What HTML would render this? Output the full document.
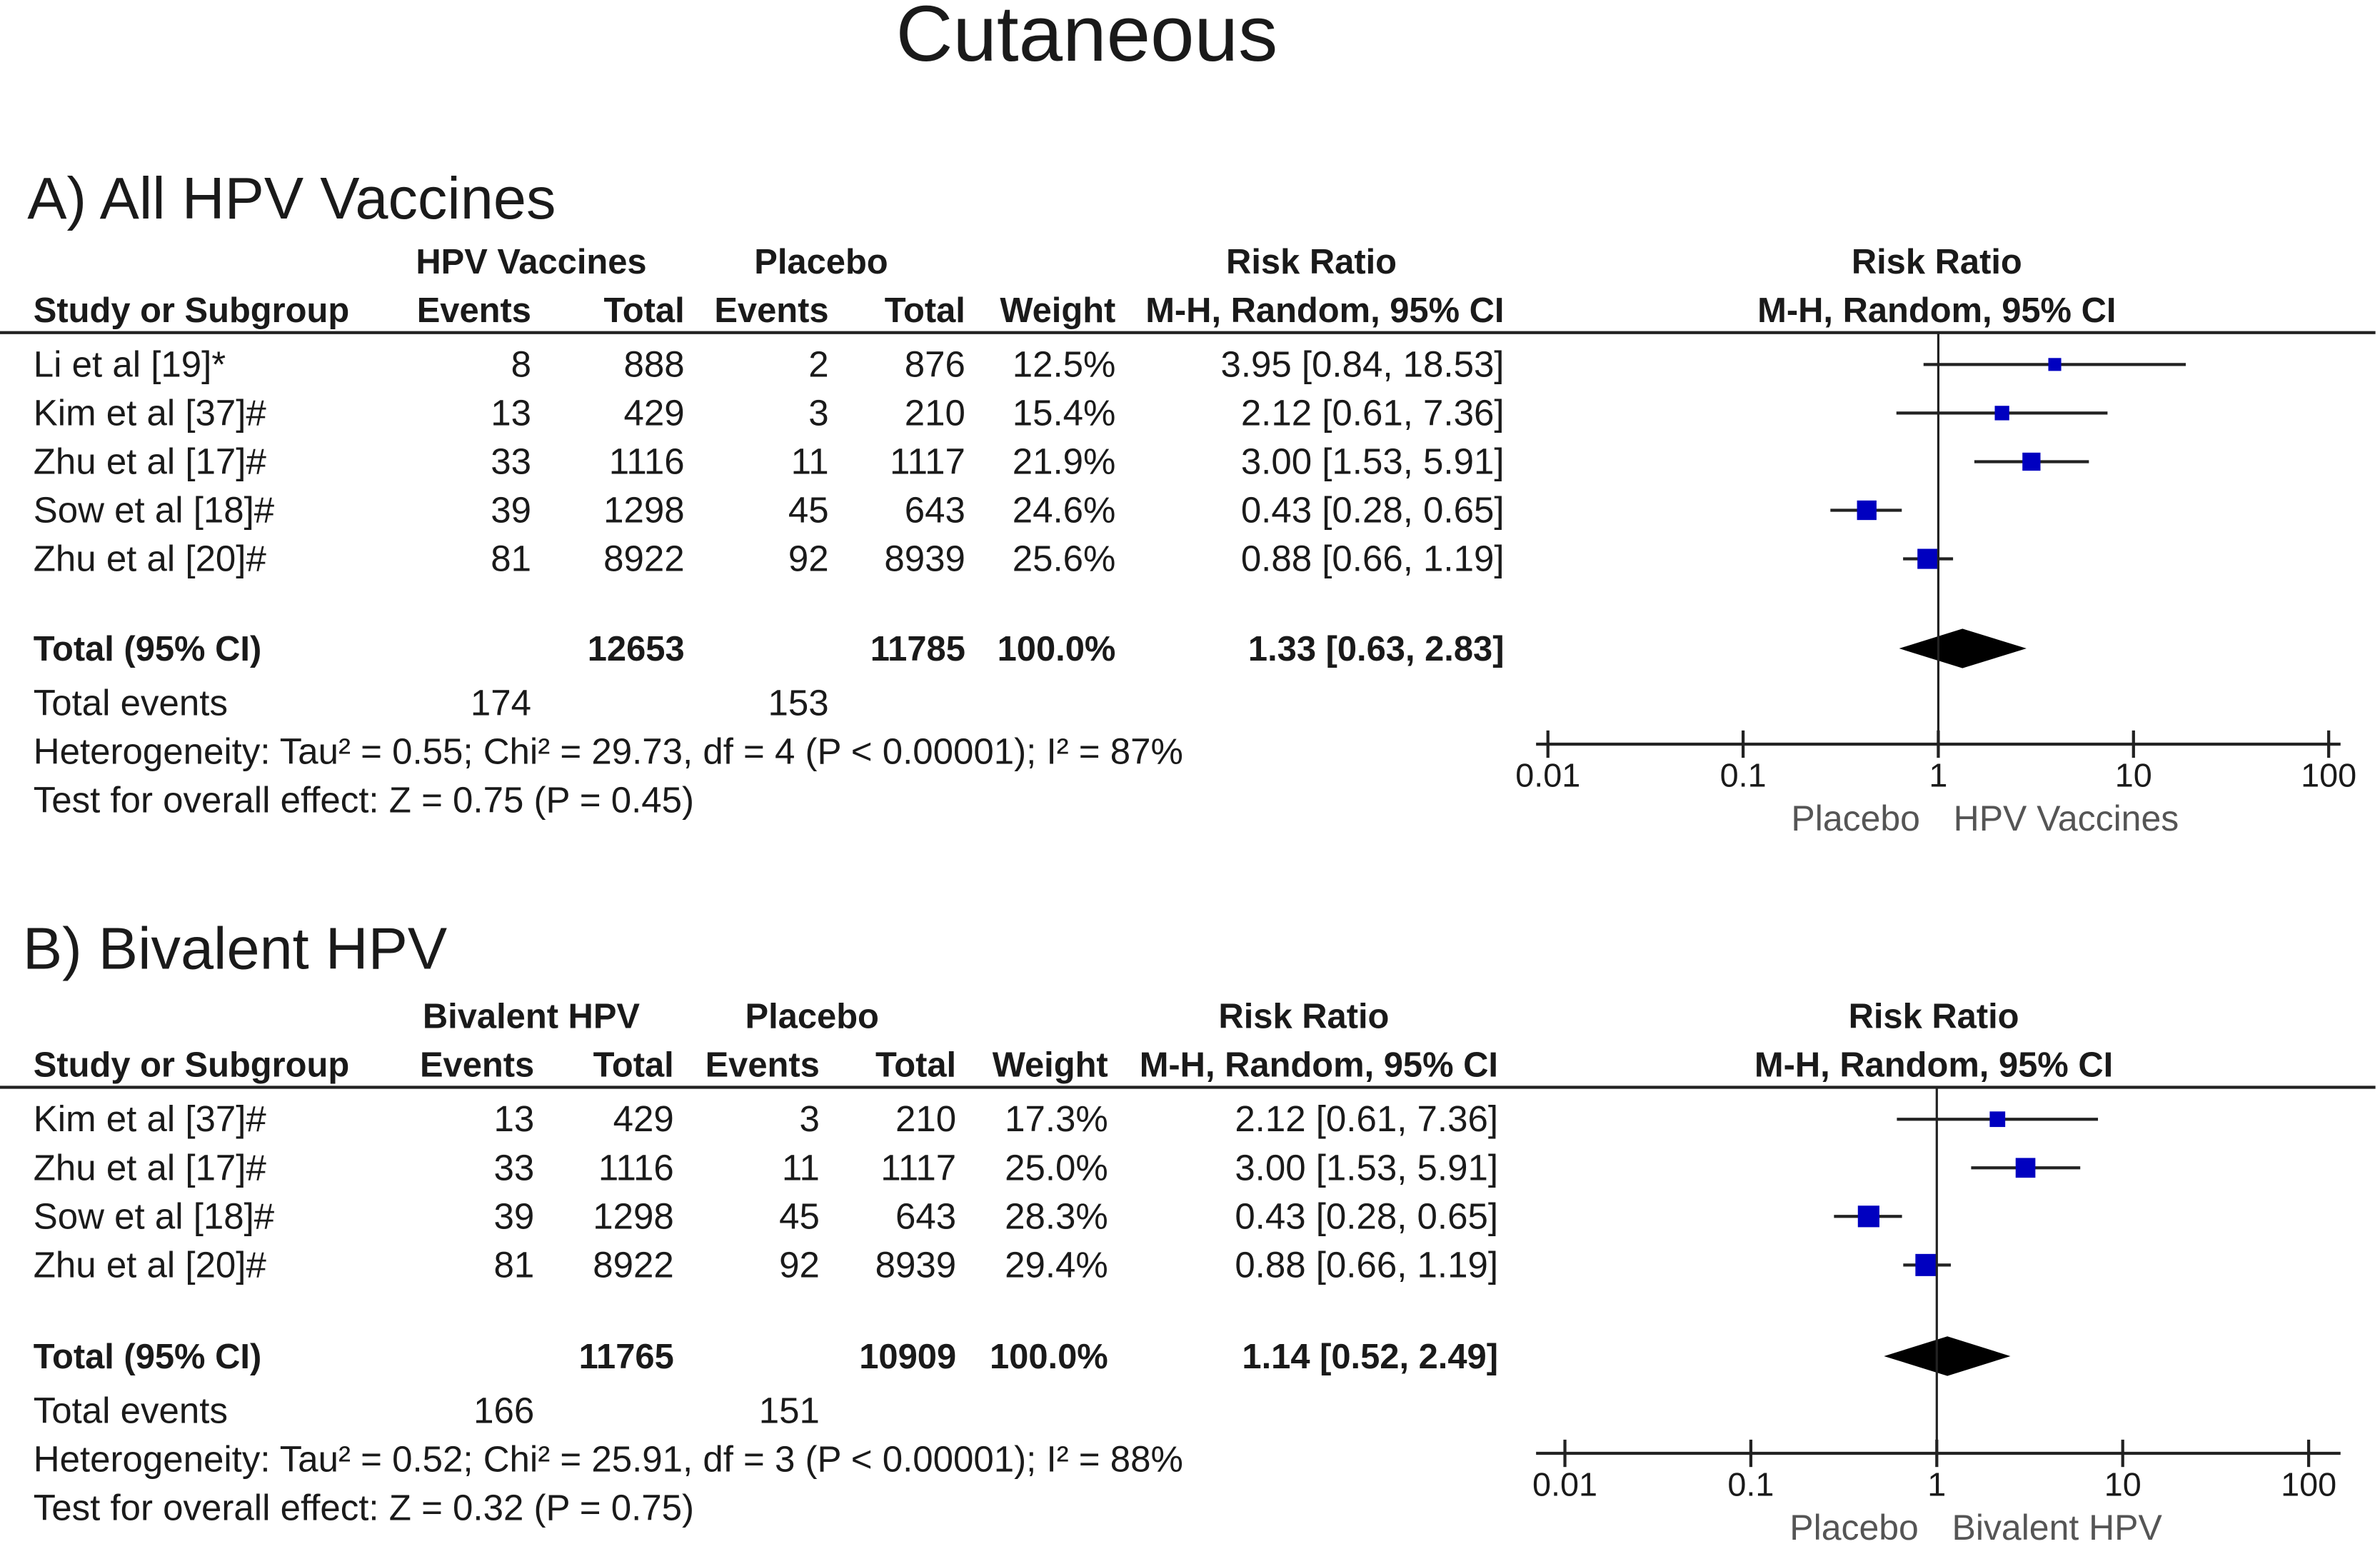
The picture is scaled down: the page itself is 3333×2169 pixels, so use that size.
<!DOCTYPE html>
<html><head><meta charset="utf-8"><style>
html,body{margin:0;padding:0;background:#fff}
svg{display:block}
text{font-family:"Liberation Sans",Arial,sans-serif;fill:#1a1a1a}
.b{font-weight:bold}
</style></head><body>
<svg id="c" width="3333" height="2169" viewBox="0 0 1568 1020" preserveAspectRatio="none">
<text x="716" y="40" font-size="52" text-anchor="middle">Cutaneous</text>
<g id="gA"></g>
<g id="gB"></g>
</svg>
<script>
// Panel A data
const studiesA = ["Li et al [19]*","Kim et al [37]#","Zhu et al [17]#","Sow et al [18]#","Zhu et al [20]#"];
const evVacA = [8,13,33,39,81];
const totVacA = [888,429,1116,1298,8922];
const evPlaA = [2,3,11,45,92];
const totPlaA = [876,210,1117,643,8939];
const weightA = [12.5,15.4,21.9,24.6,25.6];
const rrA = [3.95,2.12,3.00,0.43,0.88];
const loA = [0.84,0.61,1.53,0.28,0.66];
const hiA = [18.53,7.36,5.91,0.65,1.19];
const totalA = {rr:1.33, lo:0.63, hi:2.83};
// Panel B data
const studiesB = ["Kim et al [37]#","Zhu et al [17]#","Sow et al [18]#","Zhu et al [20]#"];
const evVacB = [13,33,39,81];
const totVacB = [429,1116,1298,8922];
const evPlaB = [3,11,45,92];
const totPlaB = [210,1117,643,8939];
const weightB = [17.3,25.0,28.3,29.4];
const rrB = [2.12,3.00,0.43,0.88];
const loB = [0.61,1.53,0.28,0.66];
const hiB = [7.36,5.91,0.65,1.19];
const totalB = {rr:1.14, lo:0.52, hi:2.49};
const ticks = [0.01,0.1,1,10,100];
const tickLabels = ["0.01","0.1","1","10","100"];

const NS="http://www.w3.org/2000/svg";
function el(g,tag,attrs,txt){const e=document.createElementNS(NS,tag);for(const k in attrs)e.setAttribute(k,attrs[k]);if(txt!==undefined)e.textContent=txt;g.appendChild(e);return e;}
function fmt(v){return v.toFixed(2);}

function panel(g,cfg){
  const x=v=>cfg.x1+cfg.dec*Math.log10(v);
  let t;
  t=el(g,'text',{x:cfg.tx,y:cfg.ty,'font-size':39});t.textContent=cfg.title;
  
  const h1=cfg.h1,h2=h1+32,fs=24,fb=23;
  const heads=[[cfg.col.grp,h1,'middle',cfg.grpName],[cfg.col.pla,h1,'middle','Placebo'],[cfg.col.rrc,h1,'middle','Risk Ratio'],[cfg.plotHc,h1,'middle','Risk Ratio'],
    [22,h2,'start','Study or Subgroup'],[cfg.col.ev,h2,'end','Events'],[cfg.col.tot,h2,'end','Total'],[cfg.col.ev2,h2,'end','Events'],[cfg.col.tot2,h2,'end','Total'],[cfg.col.w,h2,'end','Weight'],[cfg.col.ci,h2,'end','M-H, Random, 95% CI'],[cfg.plotHc,h2,'middle','M-H, Random, 95% CI']];
  heads.forEach(h=>{const e=el(g,'text',{x:h[0],y:h[1]+8,'font-size':fb,'text-anchor':h[2],class:'b'},h[3]);
    });
  const hl=el(g,'line',{x1:0,x2:1565,y1:cfg.line,y2:cfg.line,stroke:'#222','stroke-width':2});
  
  cfg.studies.forEach((s,i)=>{
    const y=cfg.row0+i*32+8;
    const vals=[[22,'start',s],[cfg.col.ev,'end',cfg.ev[i]],[cfg.col.tot,'end',cfg.tot[i]],[cfg.col.ev2,'end',cfg.ev2[i]],[cfg.col.tot2,'end',cfg.tot2[i]],[cfg.col.w,'end',cfg.w[i].toFixed(1)+'%'],[cfg.col.ci,'end',fmt(cfg.rr[i])+' ['+fmt(cfg.lo[i])+', '+fmt(cfg.hi[i])+']']];
    vals.forEach(v=>{const e=el(g,'text',{x:v[0],y:y,'font-size':fs,'text-anchor':v[1]},v[2]);
      });
    const yc=cfg.row0+i*32;
    const ci=el(g,'line',{x1:x(cfg.lo[i]),x2:x(cfg.hi[i]),y1:yc,y2:yc,stroke:'#222','stroke-width':2});
    
    const sz=4+cfg.w[i]*0.36;
    const sq=el(g,'rect',{x:x(cfg.rr[i])-sz/2,y:yc-sz/2,width:sz,height:sz,fill:'#0000c0'});
    
  });
  const ty=cfg.totY+8;
  [[22,'start','Total (95% CI)'],[cfg.col.tot,'end',cfg.sumTot],[cfg.col.tot2,'end',cfg.sumTot2],[cfg.col.w,'end','100.0%'],[cfg.col.ci,'end',fmt(cfg.total.rr)+' ['+fmt(cfg.total.lo)+', '+fmt(cfg.total.hi)+']']].forEach(v=>{
    const e=el(g,'text',{x:v[0],y:ty,'font-size':fb,'text-anchor':v[1],class:'b'},v[2]);
    });
  const dm=el(g,'polygon',{points:`${x(cfg.total.lo)},${cfg.totY} ${x(cfg.total.rr)},${cfg.totY-13} ${x(cfg.total.hi)},${cfg.totY} ${x(cfg.total.rr)},${cfg.totY+13}`,fill:'#000'});
  
  const te=cfg.totY+36+8;
  [[22,'start','Total events'],[cfg.col.ev,'end',cfg.sumEv],[cfg.col.ev2,'end',cfg.sumEv2]].forEach(v=>{
    const e=el(g,'text',{x:v[0],y:te,'font-size':fs,'text-anchor':v[1]},v[2]);
    });
  let e=el(g,'text',{x:22,y:te+32,'font-size':fs},cfg.het);
  
  e=el(g,'text',{x:22,y:te+64,'font-size':fs},cfg.test);
  
  // plot
  const vl=el(g,'line',{x1:x(1),x2:x(1),y1:cfg.line,y2:cfg.axY,stroke:'#222','stroke-width':1.5});
  
  const ax=el(g,'line',{x1:1012,x2:1542,y1:cfg.axY,y2:cfg.axY,stroke:'#222','stroke-width':2});
  
  ticks.forEach((tk,i)=>{
    const tl=el(g,'line',{x1:x(tk),x2:x(tk),y1:cfg.axY-9,y2:cfg.axY+9,stroke:'#222','stroke-width':2});
    
    const lb=el(g,'text',{x:x(tk),y:cfg.axY+28,'font-size':22,'text-anchor':'middle',fill:'#333'},tickLabels[i]);
    
  });
  e=el(g,'text',{x:x(1)-12,y:cfg.axY+57,'font-size':23.5,'text-anchor':'end',style:'fill:#555'},'Placebo');
  
  e=el(g,'text',{x:x(1)+10,y:cfg.axY+57,'font-size':23.5,'text-anchor':'start',style:'fill:#555'},cfg.grpName);
  
}
panel(document.getElementById('gA'),{title:'A) All HPV Vaccines',tx:18,ty:144,grpName:'HPV Vaccines',h1:172,line:219,row0:240,totY:427,axY:490,
  x1:1277,dec:128.6,plotHc:1276,col:{grp:350,pla:541,rrc:864,ev:350,tot:451,ev2:546,tot2:636,w:735,ci:991},
  studies:studiesA,ev:evVacA,tot:totVacA,ev2:evPlaA,tot2:totPlaA,w:weightA,rr:rrA,lo:loA,hi:hiA,total:totalA,
  sumTot:'12653',sumTot2:'11785',sumEv:'174',sumEv2:'153',
  het:'Heterogeneity: Tau² = 0.55; Chi² = 29.73, df = 4 (P < 0.00001); I² = 87%',test:'Test for overall effect: Z = 0.75 (P = 0.45)'});
panel(document.getElementById('gB'),{title:'B) Bivalent HPV',tx:15,ty:638,grpName:'Bivalent HPV',h1:669,line:716,row0:737,totY:893,axY:957,
  x1:1276,dec:122.5,plotHc:1274,col:{grp:350,pla:535,rrc:859,ev:352,tot:444,ev2:540,tot2:630,w:730,ci:987},
  studies:studiesB,ev:evVacB,tot:totVacB,ev2:evPlaB,tot2:totPlaB,w:weightB,rr:rrB,lo:loB,hi:hiB,total:totalB,
  sumTot:'11765',sumTot2:'10909',sumEv:'166',sumEv2:'151',
  het:'Heterogeneity: Tau² = 0.52; Chi² = 25.91, df = 3 (P < 0.00001); I² = 88%',test:'Test for overall effect: Z = 0.32 (P = 0.75)'});
</script>
</body></html>
